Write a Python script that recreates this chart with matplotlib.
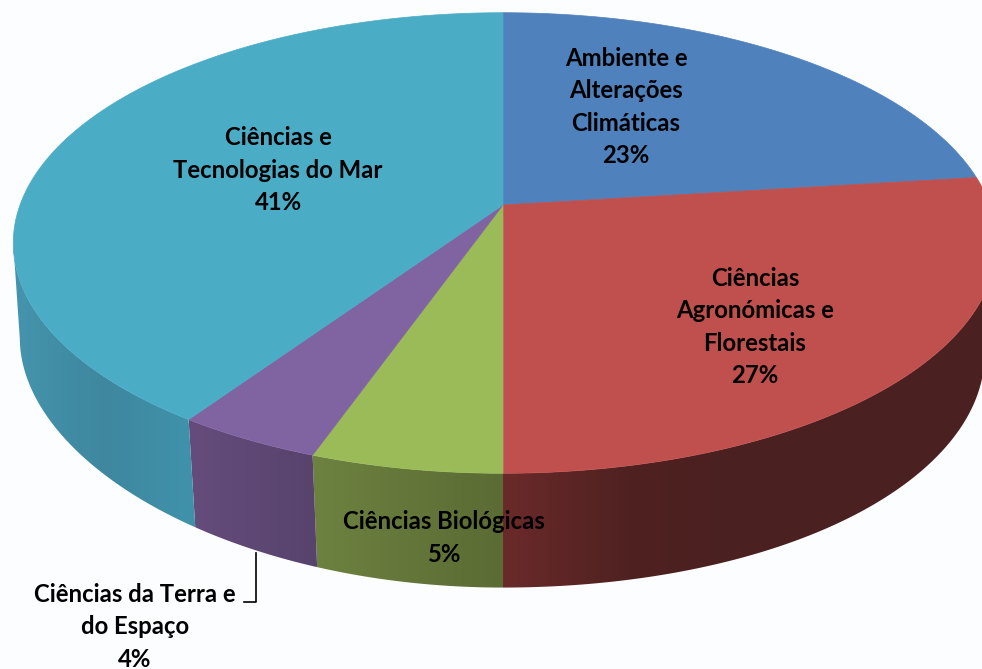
import numpy as np
import matplotlib
matplotlib.use('Agg')
import matplotlib.pyplot as plt
from matplotlib.patches import Polygon
from matplotlib.colors import LinearSegmentedColormap

# slice shares as measured on the picture, labels carry the printed percentages
categories = ['Ambiente e\nAlterações\nClimáticas', 'Ciências\nAgronómicas e\nFlorestais',
              'Ciências Biológicas', 'Ciências da Terra e\ndo Espaço', 'Ciências e\nTecnologias do Mar']
shares = [23.0, 27.0, 5.4, 4.1, 40.5]
printed = ['23%', '27%', '5%', '4%', '41%']
top_colors = ['#4F81BD', '#C0504D', '#9BBB59', '#8064A2', '#4BACC6']
wall_stops = [None,
              ['#4A2020', '#4A2020', '#4A2020', '#502121', '#6B2A2A'],
              ['#6D8240', '#5B6B34'],
              ['#654C7C', '#57436C'],
              ['#4594AD', '#3E879F', '#4092AB']]
label_xy = [(626, 107), (755, 327), (444, 538), (135, 627), (278, 170)]

# projection of the pie disc, in picture pixels
cx, cy = 503, 205
rx_left, rx_right, ry = 483, 487, 224
persp = 0.165
bottom_cy, bottom_scale = 326, 0.975
lift_left, lift_right = 25, 8
widen_left = 0.012


def top_edge(t):
    c, s = np.cos(t), np.sin(t)
    rx = np.where(s < 0, rx_left, rx_right)
    return cx + rx * s / (1 + persp * c), cy - ry * c / (1 + persp * c)


def bottom_edge(t):
    x, y = top_edge(t)
    s = np.sin(t)
    # the lower rim is not quite a scaled copy of the top one
    lift = np.where(s < 0, lift_left * s ** 2, lift_right * s ** 4)
    xscale = bottom_scale + np.where(s < 0, widen_left * s ** 2, 0)
    return cx + xscale * (x - cx), bottom_cy + bottom_scale * (y - cy) - lift


fig = plt.figure(figsize=(9.82, 6.69), dpi=100, facecolor='#FCFDFE')
ax = fig.add_axes([0, 0, 1, 1])
ax.set_xlim(0, 982)
ax.set_ylim(669, 0)
ax.axis('off')

edges = np.cumsum([0] + shares) / 100 * 2 * np.pi
# widest points of the disc, the visible rim stops there
rim_shift = np.arcsin(persp)

for i in range(5):
    if wall_stops[i] is None:
        continue
    start = max(edges[i], np.pi / 2 + rim_shift)
    end = min(edges[i + 1], 1.5 * np.pi - rim_shift)
    t = np.linspace(start, end, 120)
    xt, yt = top_edge(t)
    xb, yb = bottom_edge(t)
    pts = np.column_stack([np.r_[xt, xb[::-1]], np.r_[yt, yb[::-1]]])
    poly = Polygon(pts, closed=True, facecolor='none', edgecolor='none')
    ax.add_patch(poly)
    cmap = LinearSegmentedColormap.from_list('wall', wall_stops[i])
    # gradient runs left to right along the wall
    grad = np.linspace(0, 1, 256).reshape(1, -1)
    if i == 1:
        grad = grad[:, ::-1]
    im = ax.imshow(grad, cmap=cmap, aspect='auto', zorder=2,
                   extent=[pts[:, 0].min(), pts[:, 0].max(), pts[:, 1].max(), pts[:, 1].min()])
    im.set_clip_path(poly)
ax.set_xlim(0, 982)
ax.set_ylim(669, 0)

# top of the pie
for i in range(5):
    t = np.linspace(edges[i], edges[i + 1], 200)
    x, y = top_edge(t)
    pts = np.column_stack([np.r_[cx, x], np.r_[cy, y]])
    ax.add_patch(Polygon(pts, closed=True, facecolor=top_colors[i], edgecolor=top_colors[i],
                         linewidth=0.5, zorder=3))

# labels
for name, pct, (lx, ly) in zip(categories, printed, label_xy):
    ax.text(lx, ly, name + '\n' + pct, ha='center', va='center', family='Lato', weight='bold',
            fontsize=17.2, linespacing=1.49, color='black', zorder=5)

# leader line of the small slice
ax.plot([256, 256, 244], [553, 602, 602], color='black', linewidth=1.2, zorder=4)

fig.savefig('out.png', dpi=100, facecolor=fig.get_facecolor())
